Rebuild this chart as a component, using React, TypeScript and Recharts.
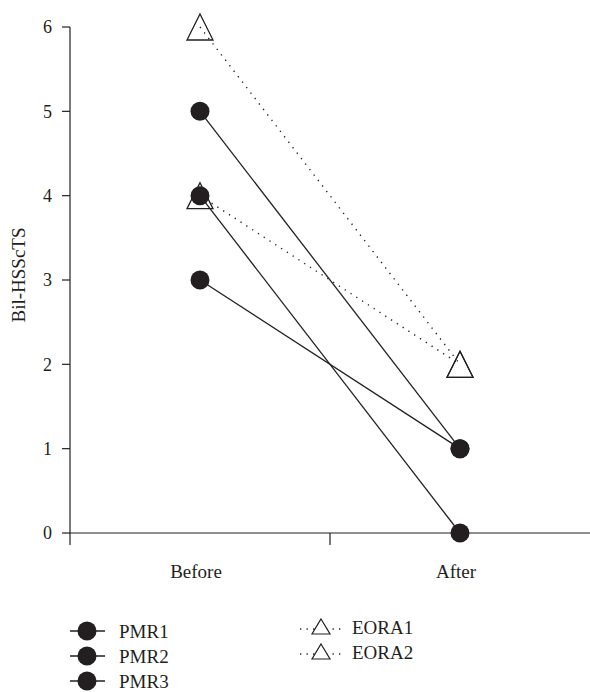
import React from 'react';
import { LineChart, Line, XAxis, YAxis, Legend } from 'recharts';

const categories = ['Before', 'After'];
const pmr1 = [5, 1];
const pmr2 = [4, 0];
const pmr3 = [3, 1];
const eora1 = [6, 2];
const eora2 = [4, 2];
const yTicks = [0, 1, 2, 3, 4, 5, 6];
const xTicks = [0, 0.5, 1, 1.5];

const pmrNames = ['PMR1', 'PMR2', 'PMR3'];
const eoraNames = ['EORA1', 'EORA2'];

const INK = '#231f20';
const FONT = "'Liberation Serif', 'Times New Roman', Times, serif";
const textStyle = { fontFamily: FONT, fontSize: 19 };

const data = categories.map((c, i) => ({
  x: i + 0.5,
  label: c,
  PMR1: pmr1[i],
  PMR2: pmr2[i],
  PMR3: pmr3[i],
  EORA1: eora1[i],
  EORA2: eora2[i],
}));

const CircleDot = (props: any) => {
  const { cx, cy } = props;
  if (cx == null || cy == null) return null;
  return <circle cx={cx} cy={cy} r={9.5} fill={INK} stroke="none" />;
};

const TriangleDot = (props: any) => {
  const { cx, cy } = props;
  if (cx == null || cy == null) return null;
  const h = 13;
  return (
    <path
      d={`M${cx},${cy - h} L${cx + h},${cy + h} L${cx - h},${cy + h} Z`}
      fill="none"
      stroke={INK}
      strokeWidth={1.3}
    />
  );
};

const XTick = (props: any) => {
  const { x, y, payload } = props;
  const v = payload.value;
  if (Number.isInteger(v)) {
    return <line x1={x} x2={x} y1={y} y2={y + 12} stroke={INK} strokeWidth={1.2} />;
  }
  return (
    <text x={x - 4} y={y + 45} textAnchor="middle" fill={INK} style={textStyle}>
      {categories[Math.floor(v)]}
    </text>
  );
};

const YLabel = () => (
  <text x={25} y={275} transform="rotate(-90 25 275)" textAnchor="middle" fill={INK} style={textStyle}>
    Bil-HSScTS
  </text>
);

const LegendBox = (props: any) => {
  const items = props.payload || [];
  const left = items.filter((e: any) => pmrNames.includes(e.value));
  const right = items.filter((e: any) => eoraNames.includes(e.value));
  const top = 600;
  return (
    <svg width={590} height={92} style={{ display: 'block' }}>
      {left.map((e: any, i: number) => {
        const cy = 631 + i * 25 - top;
        return (
          <g key={e.value}>
            <line x1={70} x2={105} y1={cy} y2={cy} stroke={INK} strokeWidth={1.3} />
            <circle cx={87} cy={cy} r={9.5} fill={INK} />
            <text x={119} y={cy + 6.5} fill={INK} style={textStyle}>
              {e.value}
            </text>
          </g>
        );
      })}
      {right.map((e: any, i: number) => {
        const cy = 627 + i * 25 - top;
        return (
          <g key={e.value}>
            <line x1={300} x2={343} y1={cy + 2} y2={cy + 2} stroke={INK} strokeWidth={1.4} strokeDasharray="1.3 5.2" />
            <path d={`M321,${cy - 8} L330,${cy + 7} L312,${cy + 7} Z`} fill="#fff" stroke={INK} strokeWidth={1.2} />
            <text x={352} y={cy + 6.5} fill={INK} style={textStyle}>
              {e.value}
            </text>
          </g>
        );
      })}
    </svg>
  );
};

export default function App() {
  return (
    <div style={{ position: 'absolute', left: 0, top: 0, width: 590, height: 692, background: '#fff', fontFamily: FONT }}>
      <LineChart width={590} height={692} data={data} margin={{ top: 27, right: 0, left: 0, bottom: 0 }}>
        <XAxis
          type="number"
          dataKey="x"
          domain={[0, 2]}
          ticks={xTicks}
          interval={0}
          height={159}
          tickSize={0}
          tickMargin={0}
          tickLine={false}
          axisLine={{ stroke: INK, strokeWidth: 1.2 }}
          tick={<XTick />}
        />
        <YAxis
          type="number"
          domain={[0, 6]}
          ticks={yTicks}
          interval={0}
          width={70}
          tickSize={8}
          tickMargin={10}
          axisLine={{ stroke: INK, strokeWidth: 1.2 }}
          tickLine={{ stroke: INK, strokeWidth: 1.2 }}
          tick={{ fill: INK, style: { fontFamily: FONT, fontSize: 18 } }}
          label={<YLabel />}
        />
        <Line
          dataKey="EORA1"
          name="EORA1"
          stroke={INK}
          strokeWidth={1.4}
          strokeDasharray="1.3 5.6"
          dot={<TriangleDot />}
          isAnimationActive={false}
        />
        <Line
          dataKey="EORA2"
          name="EORA2"
          stroke={INK}
          strokeWidth={1.4}
          strokeDasharray="1.3 5.6"
          dot={<TriangleDot />}
          isAnimationActive={false}
        />
        <Line dataKey="PMR1" name="PMR1" stroke={INK} strokeWidth={1.3} dot={<CircleDot />} isAnimationActive={false} />
        <Line dataKey="PMR2" name="PMR2" stroke={INK} strokeWidth={1.3} dot={<CircleDot />} isAnimationActive={false} />
        <Line dataKey="PMR3" name="PMR3" stroke={INK} strokeWidth={1.3} dot={<CircleDot />} isAnimationActive={false} />
        <Legend
          layout="horizontal"
          verticalAlign="middle"
          align="center"
          content={<LegendBox />}
          wrapperStyle={{ left: 0, top: 600, width: 590, height: 92 }}
        />
      </LineChart>
    </div>
  );
}
